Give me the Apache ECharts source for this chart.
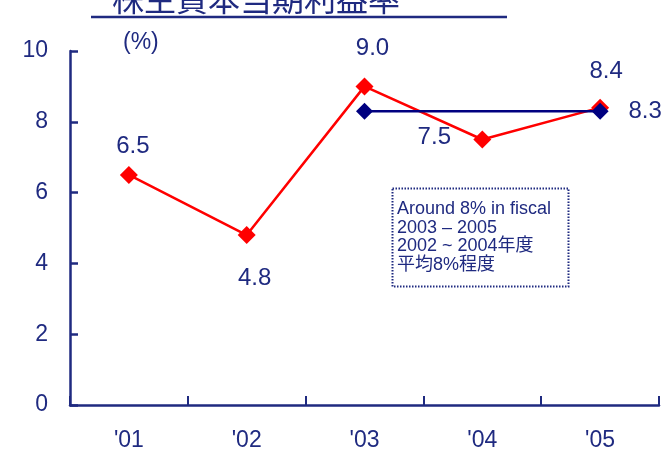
<!DOCTYPE html>
<html><head><meta charset="utf-8">
<script src="https://cdn.jsdelivr.net/npm/echarts@6/dist/echarts.min.js"></script>
<style>html,body{margin:0;padding:0;background:#fff}#c{width:663px;height:452px}</style>
</head><body><div id="c"></div>
<script>
var categories = ["'01", "'02", "'03", "'04", "'05"];
var roeValues = [6.5, 4.8, 9.0, 7.5, 8.4];
var avgValues = [null, null, 8.3, null, 8.3];
var yTicks = [0, 2, 4, 6, 8, 10];
var titleText = "株主資本当期利益率";
var unitText = "(%)";
var noteLines = ["Around 8% in fiscal", "2003 – 2005", "2002 ~ 2004年度", "平均8%程度"];

var NAVY = '#1f2a80';
var FONT = '"Liberation Sans", Arial, "Noto Sans CJK JP", sans-serif';
var roeOffsets = [[4, -29], [8, 43], [8, -38], [-48, -2], [6, -36]];
var avgOffsets = [null, null, null, null, [45, 0]];

var chart = echarts.init(document.getElementById('c'));
chart.setOption({
  animation: false,
  grid: {left: 70, right: 4, top: 51, bottom: 47},
  xAxis: {
    type: 'category', data: categories, boundaryGap: true,
    axisLine: {lineStyle: {color: NAVY, width: 2.5}},
    axisTick: {show: true, interval: 0, inside: true, length: 9, lineStyle: {color: NAVY, width: 2}},
    axisLabel: {color: NAVY, fontSize: 23, fontFamily: FONT, margin: 24}
  },
  yAxis: {
    type: 'value', min: yTicks[0], max: yTicks[yTicks.length - 1], interval: 2,
    splitLine: {show: false},
    axisLine: {show: true, lineStyle: {color: NAVY, width: 2.5}},
    axisTick: {show: true, inside: true, length: 8, lineStyle: {color: NAVY, width: 2.5}},
    axisLabel: {color: NAVY, fontSize: 23, fontFamily: FONT, margin: 22}
  },
  series: [
    {
      type: 'line', data: roeValues.map(function (v, i) {
        return {value: v, label: {show: true, position: 'inside', offset: roeOffsets[i], formatter: function (p) { return p.value.toFixed(1); }}};
      }),
      symbol: 'diamond', symbolSize: 18,
      lineStyle: {color: '#ff0000', width: 2.5}, itemStyle: {color: '#ff0000'},
      label: {color: NAVY, fontSize: 24, fontFamily: FONT}
    },
    {
      type: 'line', connectNulls: true, data: avgValues.map(function (v, i) {
        return {value: v, label: {show: !!avgOffsets[i], position: 'inside', offset: avgOffsets[i] || [0, 0], formatter: function (p) { return p.value.toFixed(1); }}};
      }),
      symbol: 'diamond', symbolSize: 17, z: 3,
      lineStyle: {color: '#000080', width: 2.5}, itemStyle: {color: '#000080'},
      label: {color: NAVY, fontSize: 24, fontFamily: FONT}
    }
  ],
  graphic: [
    {type: 'text', left: 112, top: -17, style: {text: titleText, fill: NAVY, font: '32px "Noto Sans CJK JP"'}},
    {type: 'line', shape: {x1: 91, y1: 17, x2: 507, y2: 17}, style: {stroke: NAVY, lineWidth: 2.5}},
    {type: 'text', left: 123, top: 31, style: {text: unitText, fill: NAVY, font: '23px ' + FONT}},
    {type: 'rect', shape: {x: 392.5, y: 188.5, width: 176, height: 98}, style: {fill: '#fff', stroke: NAVY, lineWidth: 2, lineDash: [1.5, 1.5]}},
    {type: 'text', left: 397, top: 200, style: {text: noteLines.join('\n'), fill: NAVY, font: '18px ' + FONT, lineHeight: 18.5}}
  ]
});
</script></body></html>
